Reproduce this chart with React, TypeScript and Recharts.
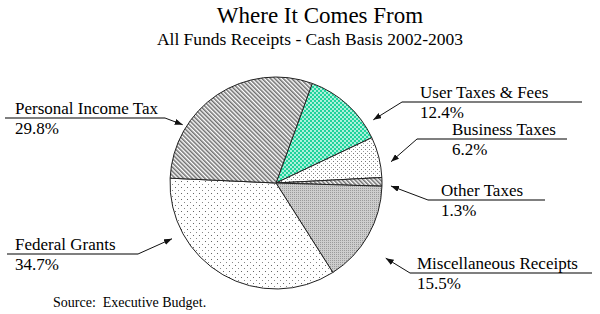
import { PieChart, Pie, Cell } from "recharts";

const sliceNames = [
  "User Taxes & Fees",
  "Business Taxes",
  "Other Taxes",
  "Miscellaneous Receipts",
  "Federal Grants",
  "Personal Income Tax",
];
const sliceValues = [12.4, 6.2, 1.3, 15.5, 34.7, 29.8];
const slicePatterns = ["green", "dotsSparse", "hatch", "grayStipple", "dotsWide", "hatch"];

const chartData = sliceNames.map((name, i) => ({ name, value: sliceValues[i] }));

// where each callout sits: tip angle/gap relative to the pie, underline and text on the page
const labelLayout = [
  { tipAngle: 33, tipGap: 10, x1: 402, x2: 582, y: 102, textX: 420, side: "right" },
  { tipAngle: 10.5, tipGap: 11, x1: 417, x2: 567, y: 139, textX: 452, side: "right" },
  { tipAngle: -1.5, tipGap: 9, x1: 428, x2: 545, y: 200, textX: 441, side: "right" },
  { tipAngle: -34.4, tipGap: 27, x1: 410, x2: 592, y: 273, textX: 417, side: "right" },
  { tipAngle: 208.2, tipGap: 12, x1: 7, x2: 138, y: 254, textX: 15, side: "left" },
  { tipAngle: 148, tipGap: 4, x1: 5, x2: 165, y: 118, textX: 15, side: "left" },
];

const FONT = "'Liberation Serif', 'Times New Roman', serif";

const renderLabel = (props: any) => {
  const { cx, cy, outerRadius, index, name, value } = props;
  const L = labelLayout[index];
  const rad = (Math.PI / 180) * L.tipAngle;
  const r = outerRadius + L.tipGap;
  const tx = cx + r * Math.cos(rad);
  const ty = cy - r * Math.sin(rad);
  const joinX = L.side === "left" ? L.x2 : L.x1;
  return (
    <g key={`lbl-${index}`}>
      <line x1={L.x1} y1={L.y} x2={L.x2} y2={L.y} stroke="#555" strokeWidth={1.3} />
      <line x1={joinX} y1={L.y} x2={tx} y2={ty} stroke="#111" strokeWidth={1} markerEnd="url(#arrowHead)" />
      <text x={L.textX} y={L.y - 4} fontFamily={FONT} fontSize={17} fill="#000">
        {name}
      </text>
      <text x={L.textX} y={L.y + 16} fontFamily={FONT} fontSize={17} fill="#000">
        {`${Number(value).toFixed(1)}%`}
      </text>
    </g>
  );
};

export default function App() {
  return (
    <div style={{ position: "relative", width: 600, height: 314, background: "#fff" }}>
      <style>{"body{margin:0}"}</style>
      <PieChart width={600} height={314} margin={{ top: 0, right: 0, bottom: 0, left: 0 }}>
        <defs>
          <marker id="arrowHead" markerWidth="8" markerHeight="6" refX="8" refY="3" orient="auto" markerUnits="userSpaceOnUse">
            <path d="M0,0 L8,3 L0,6 z" fill="#111" />
          </marker>
          <pattern id="hatch" width="3" height="3" patternUnits="userSpaceOnUse" patternTransform="rotate(-45)">
            <rect width="3" height="3" fill="#fff" />
            <line x1="0.8" y1="0" x2="0.8" y2="3" stroke="#555" strokeWidth="1.3" />
          </pattern>
          <pattern id="green" width="4" height="4" patternUnits="userSpaceOnUse">
            <rect width="4" height="4" fill="#1fd39c" />
            <circle cx="1" cy="1" r="0.9" fill="#f0fff9" />
            <circle cx="3" cy="3" r="0.9" fill="#f0fff9" />
          </pattern>
          <pattern id="dotsSparse" width="4" height="4" patternUnits="userSpaceOnUse">
            <rect width="4" height="4" fill="#fff" />
            <rect x="1" y="1" width="1" height="1" fill="#777" />
            <rect x="3" y="3" width="1" height="1" fill="#999" />
          </pattern>
          <pattern id="dotsWide" width="6" height="6" patternUnits="userSpaceOnUse">
            <rect width="6" height="6" fill="#fff" />
            <rect x="1" y="1" width="1" height="1" fill="#666" />
            <rect x="4" y="4" width="1" height="1" fill="#888" />
          </pattern>
          <pattern id="grayStipple" width="2" height="2" patternUnits="userSpaceOnUse">
            <rect width="2" height="2" fill="#cdcdcd" />
            <rect x="0" y="0" width="1" height="1" fill="#9a9a9a" />
          </pattern>
        </defs>
        <Pie
          data={chartData}
          dataKey="value"
          nameKey="name"
          cx={276}
          cy={183}
          outerRadius={106}
          startAngle={70}
          endAngle={-290}
          stroke="#222"
          strokeWidth={1}
          labelLine={false}
          label={renderLabel}
          isAnimationActive={false}
        >
          {chartData.map((d, i) => (
            <Cell key={d.name} fill={`url(#${slicePatterns[i]})`} />
          ))}
        </Pie>
      </PieChart>
      <svg width={600} height={314} style={{ position: "absolute", left: 0, top: 0, pointerEvents: "none" }}>
        <text x={320} y={23} textAnchor="middle" fontFamily={FONT} fontSize={23} fill="#000">
          Where It Comes From
        </text>
        <text x={310} y={45} textAnchor="middle" fontFamily={FONT} fontSize={17.5} fill="#000">
          All Funds Receipts - Cash Basis 2002-2003
        </text>
        <text x={53} y={307} fontFamily={FONT} fontSize={14} fill="#000" style={{ whiteSpace: "pre" }}>
          {"Source:  Executive Budget."}
        </text>
      </svg>
    </div>
  );
}
